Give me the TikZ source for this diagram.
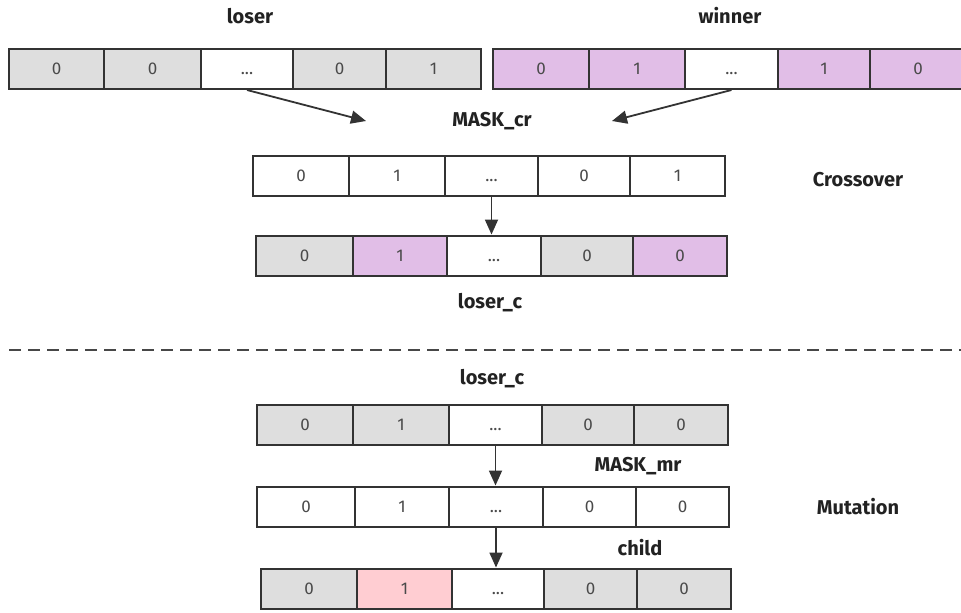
\documentclass[tikz,border=0pt]{standalone}
\usepackage{fontspec}
\setmainfont{Fira Sans}
\usetikzlibrary{arrows.meta}
\definecolor{edge}{HTML}{333333}
\definecolor{gr}{HTML}{DEDEDE}
\definecolor{pu}{HTML}{E1BEE7}
\definecolor{pk}{HTML}{FFCDD2}
\definecolor{wh}{HTML}{FFFFFF}
\definecolor{num}{HTML}{4A4A4A}
\definecolor{lab}{HTML}{222222}
\newcommand{\ddd}{\vphantom{0}...}
\tikzset{
  cell/.style={draw=edge, line width=2pt, inner sep=0pt, text=num, font=\fontsize{17}{19}\selectfont},
  lbl/.style={text=lab, font=\fontsize{20}{22}\selectfont\bfseries, inner sep=0pt},
  arr/.style={draw=edge, line width=1.8pt, -{Triangle[length=15pt,width=13pt]}},
}
\newcommand{\cellrow}[3]{%
  \foreach \l/\r/\t/\f [count=\i] in {#3}
    \node[cell, fill=\f, minimum width={(\r-\l)*1pt}, minimum height=40pt] (#1\i) at ({(\l+\r)/2}, #2) {\t};
}
\begin{document}
\begin{tikzpicture}[x=1pt, y=-1pt]
\useasboundingbox[fill=white] (0,0) rectangle (961,613);
% rows
\cellrow{A}{69}{9/104/0/gr, 104/201/0/gr, 201/293/\ddd/wh, 293/386/0/gr, 386/481/1/gr}
\cellrow{B}{69}{493/589/0/pu, 589/685/1/pu, 685/778/\ddd/wh, 778/870/1/pu, 870/966/0/pu}
\cellrow{C}{175.5}{253/349/0/wh, 349/445/1/wh, 445/538/\ddd/wh, 538/630/0/wh, 630/725/1/wh}
\cellrow{D}{255.5}{256/353/0/gr, 353/447/1/pu, 447/541/\ddd/wh, 541/633/0/gr, 633/727/0/pu}
\cellrow{E}{424.5}{257/353/0/gr, 353/449/1/gr, 449/542/\ddd/wh, 542/634/0/gr, 634/728/0/gr}
\cellrow{F}{506.5}{257/355/0/wh, 355/449/1/wh, 449/543/\ddd/wh, 543/636/0/wh, 636/729/0/wh}
\cellrow{G}{588.5}{261/357/0/gr, 357/452/1/pk, 452/544/\ddd/wh, 544/637/0/gr, 637/731/0/gr}
% labels
\node[lbl] (tloser) at (250,16) {loser};
\node[lbl] (twinner) at (730,16) {winner};
\node[lbl] (tmaskcr) at (492,121) {MASK\_cr};
\node[lbl] (tloserc) at (490,303) {loser\_c};
\node[lbl] (tcross) at (858,180) {Crossover};
\node[lbl] (tloserc2) at (492,379) {loser\_c};
\node[lbl] (tmaskmr) at (638,466) {MASK\_mr};
\node[lbl] (tchild) at (640,548) {child};
\node[lbl] (tmut) at (858,507) {Mutation};
% connectors
\coordinate (m1) at (366,121);
\coordinate (m2) at (612,121);
\draw[arr] (A3.south) -- (m1);
\draw[arr] (B3.south) -- (m2);
\draw[arr] (C3.south) -- (C3.south |- D3.north);
\draw[arr] (E3.south) -- (E3.south |- F3.north);
\draw[arr] (F3.south) -- (F3.south |- G3.north);
% divider
\coordinate (d1) at (9,350);
\coordinate (d2) at (961,350);
\draw[draw=edge!90, line width=2.5pt, dash pattern=on 12pt off 7pt] (d1) -- (d2);
\end{tikzpicture}
\end{document}
